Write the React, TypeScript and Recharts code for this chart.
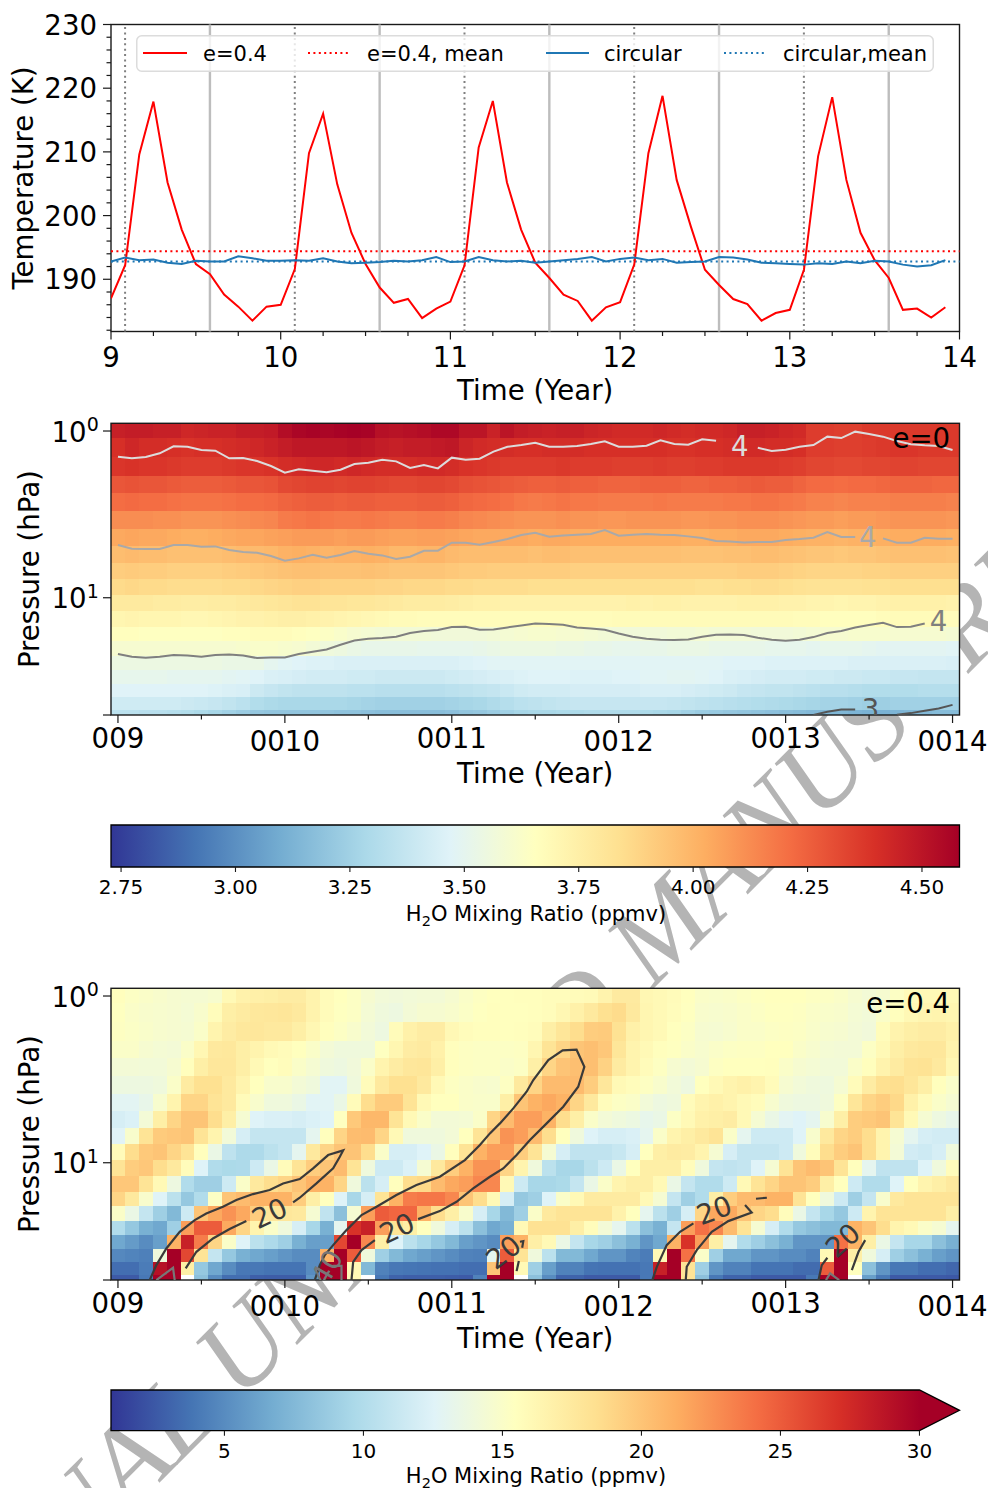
import {
  ComposedChart,
  Legend,
  Line,
  ReferenceArea,
  ReferenceDot,
  ReferenceLine,
  XAxis,
  YAxis,
} from "recharts";

const FONT = "'DejaVu Sans', sans-serif";
const INK = "#1a1a1a";

// top panel, monthly temperature (K)
const eccentricTemps = [
  187, 192.2, 209.6, 217.9, 205.2, 197.8, 192.4, 190.8, 187.6, 185.7, 183.5, 185.7,
  186, 191.6, 209.8, 216, 204.9, 197.3, 192.4, 188.7, 186.3, 186.9, 183.9, 185.4,
  186.5, 192.2, 210.7, 218, 205.2, 197.8, 192.6, 190.2, 187.6, 186.6, 183.5, 185.6,
  186.4, 192.3, 209.8, 218.8, 205.6, 198.3, 191.5, 189.1, 186.9, 186.1, 183.5, 184.7,
  185.2, 191.5, 209.3, 218.6, 205.6, 197.3, 193, 190.2, 185.2, 185.4, 184, 185.6,
];
const circularTemps = [
  192.8, 193.4, 193, 193.1, 192.6, 192.4, 192.9, 192.8, 192.8, 193.6, 193.3, 192.9,
  192.9, 193, 192.9, 193.3, 192.8, 192.5, 192.6, 192.7, 192.9, 192.8, 193, 193.5,
  192.7, 192.8, 193.5, 193, 192.8, 192.9, 192.6, 192.8, 193, 193.2, 193.5, 192.8,
  193.2, 193.4, 193, 193.2, 192.6, 192.7, 192.8, 193.5, 193.4, 193.1, 192.6, 192.5,
  192.4, 192.3, 192.5, 192.4, 192.8, 192.5, 192.9, 192.8, 192.3, 192, 192.2, 193,
];
const eccentricMean = 194.4;
const circularMean = 192.8;
const perihelionYears = [9.083, 10.083, 11.083, 12.083, 13.083];
const aphelionYears = [9.583, 10.583, 11.583, 12.583, 13.583];
const tempYearTicks = [9, 9.25, 9.5, 9.75, 10, 10.25, 10.5, 10.75, 11, 11.25, 11.5, 11.75, 12, 12.25, 12.5, 12.75, 13, 13.25, 13.5, 13.75, 14];
const tempTicks = [182, 184, 186, 188, 190, 192, 194, 196, 198, 200, 202, 204, 206, 208, 210, 212, 214, 216, 218, 220, 222, 224, 226, 228, 230];

const legendItems = [
  { name: "e=0.4", color: "#ff0000", dash: "", x1: 7, x2: 51, tx: 67 },
  { name: "e=0.4, mean", color: "#ff0000", dash: "2 3.4", x1: 172, x2: 215, tx: 231 },
  { name: "circular", color: "#1f77b4", dash: "", x1: 410, x2: 453, tx: 468 },
  { name: "circular,mean", color: "#1f77b4", dash: "2 3.4", x1: 588, x2: 631, tx: 647 },
];

// heat maps share the grid: pressure edges (hPa) of the 19 rows, 61 columns
const pressureEdges = [0.899, 1.1, 1.43, 1.85, 2.37, 3.02, 3.87, 4.89, 6.17, 7.76, 9.63, 12, 14.9, 18.3, 22.3, 27.1, 32.9, 39.6, 47.2, 50.5];
const columnTicks = [0, 6, 12, 18, 24, 30, 36, 42, 48, 54, 60];
const yearLabels = ["009", "0010", "0011", "0012", "0013", "0014"];
const pressureTicks = [1, 10, 50.5];

const circularGrid = [
  [4.46,4.47,4.47,4.46,4.46,4.43,4.44,4.45,4.45,4.47,4.47,4.48,4.53,4.56,4.57,4.56,4.57,4.58,4.57,4.52,4.51,4.52,4.53,4.55,4.55,4.5,4.5,4.45,4.5,4.47,4.46,4.45,4.46,4.46,4.44,4.43,4.42,4.42,4.42,4.43,4.42,4.41,4.42,4.42,4.43,4.46,4.46,4.45,4.43,4.42,4.36,4.36,4.35,4.35,4.37,4.37,4.37,4.37,4.37,4.37,4.37],
  [4.4,4.43,4.41,4.41,4.4,4.39,4.4,4.4,4.41,4.42,4.43,4.45,4.47,4.49,4.49,4.49,4.49,4.5,4.49,4.47,4.46,4.47,4.47,4.48,4.49,4.44,4.42,4.41,4.41,4.4,4.4,4.41,4.41,4.41,4.4,4.4,4.4,4.4,4.4,4.4,4.39,4.39,4.4,4.4,4.41,4.42,4.42,4.41,4.41,4.4,4.36,4.36,4.35,4.35,4.36,4.37,4.38,4.38,4.37,4.37,4.37],
  [4.38,4.39,4.38,4.38,4.37,4.36,4.36,4.36,4.37,4.38,4.38,4.39,4.41,4.42,4.43,4.43,4.42,4.43,4.42,4.41,4.41,4.41,4.42,4.42,4.41,4.39,4.38,4.37,4.36,4.36,4.36,4.36,4.37,4.36,4.36,4.36,4.35,4.35,4.35,4.36,4.35,4.35,4.36,4.36,4.37,4.37,4.37,4.37,4.36,4.35,4.33,4.33,4.32,4.32,4.33,4.33,4.34,4.34,4.33,4.33,4.33],
  [4.28,4.29,4.28,4.28,4.27,4.26,4.26,4.26,4.27,4.28,4.28,4.29,4.32,4.33,4.34,4.34,4.33,4.34,4.34,4.33,4.32,4.32,4.33,4.33,4.32,4.3,4.29,4.28,4.27,4.26,4.25,4.25,4.26,4.25,4.25,4.24,4.24,4.24,4.25,4.25,4.25,4.24,4.24,4.25,4.25,4.26,4.27,4.26,4.26,4.24,4.22,4.22,4.21,4.22,4.22,4.23,4.24,4.24,4.24,4.23,4.23],
  [4.21,4.22,4.21,4.21,4.2,4.19,4.19,4.19,4.2,4.21,4.21,4.22,4.24,4.25,4.26,4.26,4.25,4.26,4.26,4.25,4.25,4.25,4.26,4.26,4.25,4.23,4.22,4.21,4.2,4.18,4.17,4.18,4.19,4.18,4.18,4.17,4.17,4.17,4.17,4.18,4.17,4.17,4.17,4.17,4.18,4.18,4.19,4.19,4.18,4.17,4.15,4.15,4.14,4.15,4.15,4.15,4.16,4.16,4.16,4.16,4.15],
  [4.12,4.12,4.12,4.11,4.11,4.1,4.1,4.1,4.11,4.12,4.13,4.14,4.17,4.18,4.19,4.18,4.17,4.17,4.18,4.17,4.16,4.16,4.17,4.17,4.16,4.14,4.13,4.12,4.11,4.1,4.1,4.1,4.11,4.1,4.1,4.09,4.09,4.1,4.1,4.1,4.1,4.09,4.09,4.1,4.1,4.11,4.11,4.11,4.1,4.09,4.08,4.08,4.07,4.08,4.08,4.09,4.1,4.1,4.1,4.1,4.09],
  [4.04,4.05,4.04,4.04,4.03,4.02,4.02,4.03,4.04,4.05,4.05,4.06,4.07,4.08,4.08,4.08,4.07,4.08,4.08,4.07,4.06,4.06,4.07,4.07,4.06,4.05,4.04,4.04,4.04,4.04,4.03,4.04,4.04,4.03,4.03,4.03,4.03,4.03,4.03,4.03,4.03,4.02,4.02,4.03,4.03,4.04,4.04,4.04,4.03,4.02,4.01,4.01,4,4.01,4.01,4.02,4.03,4.03,4.03,4.03,4.02],
  [3.97,3.98,3.97,3.97,3.96,3.96,3.96,3.96,3.97,3.98,3.98,3.99,4.01,4.02,4.01,4,4.01,4.01,4.02,4.01,3.99,3.99,4,4,3.98,3.97,3.97,3.97,3.97,3.97,3.96,3.97,3.97,3.96,3.96,3.96,3.96,3.96,3.96,3.96,3.96,3.95,3.95,3.95,3.96,3.96,3.97,3.97,3.96,3.95,3.94,3.94,3.93,3.94,3.94,3.95,3.96,3.96,3.96,3.96,3.95],
  [3.91,3.92,3.91,3.91,3.9,3.9,3.9,3.9,3.91,3.92,3.93,3.94,3.95,3.96,3.96,3.95,3.95,3.95,3.96,3.95,3.94,3.94,3.94,3.94,3.93,3.92,3.92,3.91,3.91,3.91,3.91,3.91,3.91,3.9,3.9,3.9,3.9,3.9,3.9,3.9,3.9,3.9,3.9,3.9,3.9,3.91,3.91,3.91,3.9,3.89,3.88,3.88,3.88,3.88,3.89,3.89,3.9,3.9,3.9,3.9,3.9],
  [3.86,3.87,3.86,3.86,3.85,3.85,3.85,3.85,3.86,3.86,3.87,3.88,3.89,3.9,3.9,3.89,3.89,3.89,3.89,3.88,3.88,3.87,3.87,3.87,3.86,3.86,3.85,3.85,3.85,3.85,3.84,3.84,3.84,3.84,3.84,3.84,3.84,3.84,3.84,3.84,3.84,3.84,3.83,3.83,3.84,3.84,3.85,3.85,3.84,3.83,3.82,3.82,3.82,3.82,3.83,3.83,3.84,3.84,3.84,3.84,3.84],
  [3.78,3.78,3.78,3.77,3.77,3.76,3.76,3.77,3.77,3.78,3.79,3.8,3.81,3.82,3.82,3.81,3.81,3.8,3.8,3.79,3.78,3.77,3.77,3.77,3.76,3.75,3.74,3.74,3.73,3.73,3.73,3.73,3.73,3.73,3.73,3.73,3.73,3.74,3.73,3.74,3.74,3.73,3.73,3.73,3.73,3.74,3.74,3.74,3.73,3.73,3.72,3.72,3.71,3.72,3.72,3.73,3.74,3.74,3.74,3.74,3.73],
  [3.71,3.72,3.71,3.71,3.71,3.7,3.7,3.71,3.72,3.73,3.73,3.74,3.75,3.75,3.74,3.73,3.72,3.71,3.7,3.69,3.68,3.68,3.67,3.67,3.67,3.67,3.67,3.67,3.67,3.67,3.67,3.67,3.67,3.67,3.67,3.67,3.68,3.68,3.68,3.68,3.68,3.68,3.68,3.68,3.68,3.68,3.68,3.68,3.68,3.67,3.67,3.66,3.66,3.66,3.66,3.67,3.68,3.68,3.68,3.68,3.67],
  [3.66,3.66,3.65,3.65,3.65,3.65,3.65,3.65,3.66,3.66,3.67,3.67,3.67,3.66,3.65,3.64,3.62,3.6,3.59,3.58,3.58,3.58,3.58,3.57,3.57,3.57,3.57,3.58,3.59,3.6,3.61,3.61,3.6,3.6,3.59,3.58,3.57,3.57,3.57,3.57,3.58,3.58,3.59,3.58,3.58,3.58,3.57,3.57,3.57,3.58,3.59,3.6,3.6,3.61,3.61,3.61,3.6,3.6,3.6,3.6,3.59],
  [3.6,3.6,3.6,3.6,3.6,3.6,3.6,3.6,3.6,3.61,3.62,3.62,3.61,3.6,3.58,3.56,3.55,3.53,3.52,3.52,3.52,3.52,3.51,3.51,3.51,3.51,3.52,3.53,3.54,3.54,3.54,3.54,3.53,3.53,3.52,3.52,3.51,3.51,3.52,3.52,3.53,3.53,3.53,3.52,3.52,3.52,3.52,3.51,3.51,3.51,3.5,3.51,3.51,3.51,3.5,3.49,3.49,3.49,3.49,3.49,3.48],
  [3.54,3.54,3.54,3.54,3.54,3.54,3.54,3.54,3.53,3.53,3.53,3.5,3.48,3.47,3.46,3.46,3.45,3.45,3.45,3.45,3.45,3.45,3.45,3.45,3.45,3.46,3.47,3.48,3.48,3.48,3.48,3.48,3.48,3.48,3.48,3.48,3.48,3.48,3.48,3.48,3.48,3.48,3.48,3.48,3.47,3.47,3.47,3.46,3.46,3.46,3.46,3.46,3.46,3.45,3.45,3.45,3.45,3.45,3.45,3.45,3.44],
  [3.51,3.51,3.51,3.51,3.5,3.5,3.5,3.5,3.49,3.48,3.47,3.45,3.44,3.43,3.42,3.42,3.42,3.41,3.41,3.4,3.4,3.4,3.4,3.4,3.41,3.42,3.43,3.44,3.45,3.46,3.47,3.47,3.47,3.46,3.46,3.46,3.47,3.47,3.48,3.48,3.49,3.49,3.48,3.47,3.45,3.44,3.43,3.42,3.42,3.42,3.41,3.41,3.4,3.4,3.39,3.39,3.38,3.38,3.37,3.37,3.37],
  [3.47,3.47,3.47,3.47,3.47,3.47,3.47,3.46,3.45,3.44,3.4,3.38,3.36,3.35,3.35,3.35,3.35,3.34,3.34,3.33,3.33,3.33,3.33,3.33,3.34,3.35,3.36,3.37,3.39,3.41,3.42,3.42,3.42,3.43,3.43,3.43,3.43,3.43,3.44,3.44,3.44,3.43,3.42,3.41,3.4,3.38,3.37,3.36,3.36,3.35,3.34,3.33,3.33,3.32,3.31,3.31,3.31,3.31,3.32,3.32,3.32],
  [3.41,3.41,3.41,3.41,3.41,3.4,3.39,3.38,3.36,3.34,3.31,3.29,3.28,3.28,3.28,3.28,3.28,3.27,3.26,3.25,3.25,3.25,3.25,3.25,3.26,3.27,3.28,3.3,3.32,3.34,3.35,3.36,3.37,3.38,3.38,3.38,3.38,3.38,3.38,3.38,3.37,3.36,3.35,3.34,3.33,3.32,3.31,3.3,3.29,3.28,3.27,3.26,3.26,3.25,3.24,3.24,3.25,3.25,3.25,3.25,3.25],
  [3.34,3.34,3.33,3.33,3.32,3.31,3.29,3.27,3.25,3.23,3.21,3.2,3.2,3.2,3.2,3.2,3.19,3.19,3.18,3.17,3.17,3.17,3.17,3.17,3.18,3.2,3.21,3.23,3.25,3.27,3.28,3.28,3.29,3.29,3.3,3.3,3.3,3.3,3.29,3.28,3.27,3.25,3.23,3.22,3.21,3.2,3.19,3.18,3.17,3.16,3.15,3.14,3.14,3.13,3.12,3.12,3.13,3.14,3.15,3.16,3.16],
];

const eccentricGrid = [
  [15.6,15.2,15,14.8,14.6,14.5,14.5,14.7,16,16.7,16.9,17,17.2,17.2,16.6,15.8,15.5,15.2,14.6,14.2,14.1,14.2,14.3,14.3,14.6,15,15.3,15.5,15.5,15.6,15.6,15.7,15.7,15.8,15.9,16.6,17.4,17.4,16.2,16,15.8,15.5,15,14.9,15,15.2,15.4,15.5,15.5,15.5,15.3,15.2,15,14.6,14.3,14.6,15.2,15.8,16,16,16],
  [15.4,15,14.8,14.7,14.6,14.4,14.8,15.7,17,17.3,17.6,17.7,17.8,17.5,16.6,15.8,15.4,15.2,14.4,14,13.8,14.3,14.6,14.6,14.8,15.1,15.4,15.6,15.5,15.5,15.6,15.7,16.2,16.8,17.5,18.3,18.6,17.5,16.3,16,15.7,15.4,14.8,14.7,14.8,15,15.2,15.4,15.4,15.3,15,14.9,14.8,14.4,14.2,15,15.6,16.1,16.4,16.5,16.3],
  [15.3,15.1,14.9,14.7,14.6,14.5,15,16.5,17.2,17.6,17.7,17.5,17.5,17,16.2,15.6,15.2,14.8,14.2,13.8,15.8,16.8,17.2,17.2,16.1,15.7,15.6,15.6,15.5,15.6,15.7,17,17.8,18.5,19.5,19.6,18.2,16.8,16.3,16,15.5,15.2,14.6,14.5,14.7,15,15,15.2,15.3,15.2,14.9,14.7,14.6,14.3,14.1,15.7,16.6,17,17.2,17.2,16.8],
  [15,15,14.6,14.4,14.3,15,16.2,17.5,17.6,17,16.5,16,15.8,15.5,15,14.3,14,14,14,15.4,16.3,17.2,17.4,16.8,15.6,15.3,15.2,15.2,15.2,15.3,16.3,18,19,20,20.3,19.8,17.8,16.5,16,15.6,15.4,15,14.7,15,15.2,15.3,15.3,15.5,15.5,15,14.7,14.4,14.3,14.3,15.2,16,17,17.5,17.7,17.7,16.6],
  [14.3,14.3,14.2,14.2,14.6,15.6,17,17.7,17.7,17,16,15.5,15.7,15,14.5,14,13.8,14.1,15,16.5,17.2,17.7,17.8,17,15.6,15.3,15.2,15.2,15,15.2,17,19,20,20.3,20.3,19.2,17.3,16.5,15.8,15.3,14.6,14.3,14.6,15.3,15.5,15.5,15.5,15.6,15,14.6,14.4,14.2,14.2,15,15.6,16.6,17.3,18,18.1,17.5,16.2],
  [13.8,13.8,13.8,14,15,17.3,18.3,18.3,17.5,16.5,15.5,14.8,14.8,14.3,14,12.7,12.7,14,15.8,17.5,18.3,18.3,17.5,16,15.3,15,14.8,14.7,15.3,17.5,19,20.5,20.5,20.5,19.5,17.7,16,15.7,15.3,14.8,14.2,13.8,15.5,16,16.5,16.8,16.5,15.8,14.6,14.2,14,13.9,14.5,15.8,17.2,18.3,18.4,17.8,17,15.6,14.9],
  [12.8,12.8,13.3,14.7,16.5,19,19,18,17.5,15.8,14.8,14,14,13.5,12.7,12.7,13.5,15.8,18.5,19.6,19.6,18,16,15.5,15.5,15,14.9,14.9,17,20,21,21.5,21,19,17.5,15.7,15.2,15,14.2,13.8,14,15.8,16.5,16.8,16.5,16,15.7,14.7,14,13.8,13.8,14,15.3,17.8,19,19.5,18.8,16.8,15.8,15,14.5],
  [12,12.3,14.3,17,19,20,20,18.5,17,14.5,12.5,12.2,12.2,12,12.3,12.5,15.4,19.7,20.7,20.7,18,16,15,14.3,14.3,14.4,15,19,20.5,22,22,21,18.5,17,15,14.3,14,13.7,13.2,13.5,15.2,16,16.8,17,17.2,16,14.5,13.5,12.8,12.5,13,14.7,17,19.5,19.7,20,18,16,14.5,13.8,13.3],
  [12.6,14.8,18,19.6,19.8,20,18,16.5,14.2,12,11,11,11,11,13,15.6,19,20.4,20.5,19,16,14,14,14,14.3,15.5,18,20,22.5,22,20.5,18.5,15.5,14,12.5,12,12,12.2,13,15,16.5,17,17.5,18,15,13,11.5,11.5,11.5,12.5,14.8,17.5,19,19.5,18.5,16.5,14.5,13,12,11.8,11.8],
  [15.8,18.5,19.7,20,19,18,15.6,13.5,10.7,9.8,9.8,10.5,11,13,17.5,19,20,20,18.5,15,12,12,12.5,13.5,15.6,18,21,22,22,19.5,18,14.5,12,10.8,10.8,10.8,11.2,12,15.5,17,17.3,17.2,16.5,14.5,12,11,11,11,11.5,14,15.7,18.5,19.5,20,18.5,16.5,14.3,11.8,11.5,12,14],
  [18,19.5,19.8,18.5,17.5,15.7,12.5,10,9.7,9.8,11.5,13.5,15.8,18,19.5,20,20.5,18,14,11.5,11.5,12.3,14.5,17.5,19.5,21,22.5,22.5,19,16.5,14,10.5,9.5,9.5,10.5,11.5,13.5,15.5,17,17,17,15.7,14,11,10.8,11,12.5,14.5,18,20,20.5,20,18,15.6,13,10.8,10.8,10.8,12.5,14,15.7],
  [19.8,19.8,18,16,13.8,10,9,9,11.5,15,17.5,18.5,19,20,21,21,19,14,10.5,12,15.6,18.5,18.8,20.5,21.5,22,23,23,16,11.5,9.5,9.5,9.7,11,13.5,15,16.5,17,17,16,13.5,11,10,10,11.5,16,18,19,20,20,19.5,17,15.5,11.5,10,10,12.5,15.5,16.5,17,17.5],
  [19,17.5,14.8,12.5,10.5,8.5,10,15.2,20,20.5,21,21,21,19.5,17,15.5,12.5,9.5,12,18,21,23.5,23.8,23.8,23,20,18.5,16,12,8.5,9,12.5,15,16,17.3,17.3,17.3,17.3,16,14.5,11,9,10,17,19.5,20.5,20.5,21,21,18,15.5,14,11.5,9,11,14.8,17.5,18,18,18,18],
  [15,13.5,11,9,7.5,11.5,20,21.5,22.5,21.5,19.5,17.7,17.7,17.5,14.5,10.8,8,14.5,22,25,24.5,24.5,21,18.5,17,14.8,12,9.5,7.5,9,15,17.5,18,18,18,18,16.7,15.5,13,10.5,9,12,19,21.5,21.5,20,19,18.5,15.7,13.5,11,9.5,8.5,11.5,16.5,18,18,18,18,18,17],
  [10,8.5,7,6.5,9,22,25,25,21.5,19,16.5,15,14,12,9.5,7,13,27,28,22,18,17,15.5,14,12,10.5,8,6.5,7,16,18.2,18.2,18.2,17,15.7,14.3,13,10.5,8,7,11,22,24,23,20.5,18,14.5,12,10,8.5,8,7.5,7.5,21,20,18.5,16.5,16,15,14.5,13],
  [6.5,5.8,5,6,21,28,23.5,19,15,12.5,10.5,9.8,9,7,6,6,26,30,23,17,12.5,10.5,9.5,8.5,7.5,6,5.5,5,22,21,17,16,13.5,11,9.5,9,8,7,5.5,6.5,21,27,22,17,13,10,9,8,7,5.5,5.5,5.5,24,21,17,13.5,11,9.5,9.5,8,7],
  [4.8,4.6,4.4,14,30,26,18,11,8.5,7,6.5,6,5.5,5,5,21,31,25,14,9,7.5,6.5,6,5.5,5,4.5,4.4,13,25,18,14,10.5,7.5,7.5,6.5,5.5,5.5,4.6,4.2,16,30,24,15,9,6.5,6.5,5.5,5.5,5,5,4.5,16,30,17,14,12,9,8,7,6,5.5],
  [3.5,3.5,4.2,29,32,17,8.5,6.5,5,4,4,3.8,3.8,3.8,5,31,32,16,7.5,4.5,4,3.9,3.8,3.7,3.7,3.5,3.5,20,32,16,9,6,4.5,4.5,3.8,3.7,3.7,3.7,4,28,31,18,9,5.5,4.5,4.5,3.8,3.8,3.8,3.4,3.4,25,31,15.5,8,5.5,4,4,3.5,3.5,3.2],
  [2.6,2.6,4,32,32,null,8,5,3.5,3.5,2.8,2.7,2.7,2.7,5.5,32,32,16,null,4,3,2.8,2.8,2.8,2.7,2.6,4.5,32,32,null,8,5,3,3,2.6,2.6,2.6,2.6,4,32,32,18,8,4,3,3,2.6,2.6,2.6,2.6,4,32,32,null,6,4,2.6,2.6,2.6,2.6,2.5],
];

// contour pressure per column, circular run (null where the label breaks the line)
const circularContourTop = [1.425,1.459,1.432,1.361,1.236,1.242,1.3,1.312,1.459,1.452,1.514,1.622,1.778,1.698,1.73,1.77,1.706,1.578,1.549,1.486,1.521,1.667,1.6,1.675,1.445,1.486,1.466,1.33,1.242,1.213,1.175,1.242,1.242,1.23,1.197,1.153,1.242,1.242,1.225,1.138,1.197,1.208,1.122,1.143,null,null,1.259,1.318,1.294,1.242,1.213,1.081,1.102,1.009,1.042,1.081,1.148,1.202,1.219,1.23,1.3];
const circularContourMid = [4.831,5.082,5.105,5.105,4.831,4.831,4.943,4.92,5.176,5.321,5.37,5.623,5.998,5.808,5.521,5.754,5.546,5.248,5.445,5.572,5.861,5.675,5.224,5.224,4.677,4.677,4.808,4.634,4.446,4.207,4.074,4.305,4.227,4.188,4.15,3.926,4.246,4.188,4.15,4.188,4.207,4.285,4.385,4.571,4.592,4.656,4.634,4.634,4.508,4.446,4.365,4.036,4.325,4.325,null,4.406,4.677,4.677,4.365,4.426,4.426];
const circularContourLow = [21.78,22.6,22.9,22.6,22.08,22.18,22.6,22.08,21.88,22.18,23.01,22.8,22.8,21.78,21.09,20.42,19.14,18.03,17.62,17.46,17.14,16.29,15.85,15.63,15,14.93,15.56,15.49,15.07,14.66,14.26,14.39,14.52,15.07,15.28,15.56,16.37,17.14,17.62,17.86,17.95,17.78,17.14,16.67,16.6,16.75,17.38,17.86,18.11,17.86,17.22,16.29,15.85,15.07,14.59,14.13,15,14.93,14.26,null,null];
const circularContourDryCols = [50, 51, 52, 53];
const circularContourDry = [50.4, 48.3, 46.8, 46.8];
const circularContourDry2Cols = [56, 57, 58, 59, 60];
const circularContourDry2 = [50.4, 49.2, 47.6, 46.1, 43.9];

// contour traces of the e=0.4 run: column and log10(pressure)
const blobOneCols = [2.28,2.76,3.48,4.44,5.52,6.35,7.55,8.51,9.71,10.91,11.87,13.07,14.03,15.11,16.19,15.95,15.47,14.27,13.07,12.59];
const blobOneLogP = [1.704,1.614,1.514,1.414,1.344,1.304,1.264,1.224,1.188,1.164,1.124,1.098,1.034,0.954,0.926,0.964,1.034,1.124,1.21,1.238];
const blobOneTailCols = [9.23,8.03,6.83,5.64,4.87];
const blobOneTailLogP = [1.35,1.398,1.454,1.534,1.634];
const blobTwoCols = [14.15,14.51,14.87,15.47,16.43,17.51,18.59,20.02,21.46,23.14,24.94,26.02,26.74,27.46,28.42,29.38,29.86,30.94,31.97,32.97,33.53,33.09,32.01,30.82,29.62,28.66,27.7,26.74,25.54,24.34,23.14,21.58];
const blobTwoLogP = [1.704,1.614,1.554,1.494,1.404,1.314,1.264,1.194,1.134,1.084,0.984,0.894,0.824,0.764,0.674,0.574,0.504,0.384,0.326,0.322,0.424,0.544,0.664,0.764,0.864,0.954,1.034,1.084,1.154,1.234,1.29,1.338];
const blobTwoTailCols = [18.47,17.51,16.91,16.79];
const blobTwoTailLogP = [1.464,1.524,1.594,1.704];
const blobThreeCols = [28.9,29.14,29.06];
const blobThreeLogP = [1.474,1.47,1.51];
const blobThreeTailCols = [28.82,28.66];
const blobThreeTailLogP = [1.59,1.65];
const blobFourCols = [38.42,38.74,39.45,40.41,41.37];
const blobFourLogP = [1.704,1.624,1.494,1.414,1.364];
const blobFourTailCols = [40.82,40.89,41.61,42.69,43.88,45.56,45.08];
const blobFourTailLogP = [1.704,1.624,1.524,1.414,1.35,1.298,1.254];
const blobFourDashCols = [45.87,46.65];
const blobFourDashLogP = [1.216,1.21];
const blobFiveCols = [50.36,50.6,51];
const blobFiveLogP = [1.704,1.614,1.57];
const blobFiveTailCols = [53.72,53.24,52.76];
const blobFiveTailLogP = [1.464,1.534,1.644];
const fortyOneCols = [2.76,3.96,4.08];
const fortyOneLogP = [1.704,1.63,1.704];
const fortyTwoCols = [15.47,16.07,16.07];
const fortyTwoLogP = [1.618,1.618,1.704];
const fortyThreeCols = [50.9,51.2,51.85];
const fortyThreeLogP = [1.704,1.664,1.704];

const colormap = ["#313695","#4575b4","#74add1","#abd9e9","#e0f3f8","#ffffbf","#fee090","#fdae61","#f46d43","#d73027","#a50026"];
const lowBarTicks = [2.75, 3, 3.25, 3.5, 3.75, 4, 4.25, 4.5];
const highBarTicks = [5, 10, 15, 20, 25, 30];

function hexRgb(hex: string) {
  return [1, 3, 5].map((i) => parseInt(hex.slice(i, i + 2), 16));
}

function cellColor(value: number | null, vmin: number, vmax: number) {
  if (value === null) return "#ffffff";
  const t = Math.min(1, Math.max(0, (value - vmin) / (vmax - vmin))) * 10;
  const i = Math.min(9, Math.floor(t));
  const a = hexRgb(colormap[i]);
  const b = hexRgb(colormap[i + 1]);
  const mix = a.map((c, k) => Math.round(c + (b[k] - c) * (t - i)));
  return `rgb(${mix[0]},${mix[1]},${mix[2]})`;
}

const fromLog = (cols: number[], logP: number[]) =>
  cols.map((col, i) => ({ col, p: Math.pow(10, logP[i]) }));
const fromColumns = (pressures: (number | null)[]) =>
  pressures.map((p, col) => ({ col, p }));
const fromPairs = (cols: number[], ps: number[]) =>
  cols.map((col, i) => ({ col, p: ps[i] }));

const circularContours = [
  { data: fromColumns(circularContourTop), color: "#dcdcdc" },
  { data: fromColumns(circularContourMid), color: "#a9a9a9" },
  { data: fromColumns(circularContourLow), color: "#7f7f7f" },
  { data: fromPairs(circularContourDryCols, circularContourDry), color: "#555555" },
  { data: fromPairs(circularContourDry2Cols, circularContourDry2), color: "#555555" },
];

const eccentricContours = [
  { data: fromLog(blobOneCols, blobOneLogP), color: "#3a3a3a" },
  { data: fromLog(blobOneTailCols, blobOneTailLogP), color: "#3a3a3a" },
  { data: fromLog(blobTwoCols, blobTwoLogP), color: "#3a3a3a" },
  { data: fromLog(blobTwoTailCols, blobTwoTailLogP), color: "#3a3a3a" },
  { data: fromLog(blobThreeCols, blobThreeLogP), color: "#3a3a3a" },
  { data: fromLog(blobThreeTailCols, blobThreeTailLogP), color: "#3a3a3a" },
  { data: fromLog(blobFourCols, blobFourLogP), color: "#3a3a3a" },
  { data: fromLog(blobFourTailCols, blobFourTailLogP), color: "#3a3a3a" },
  { data: fromLog(blobFourDashCols, blobFourDashLogP), color: "#3a3a3a" },
  { data: fromLog(blobFiveCols, blobFiveLogP), color: "#3a3a3a" },
  { data: fromLog(blobFiveTailCols, blobFiveTailLogP), color: "#3a3a3a" },
  { data: fromLog(fortyOneCols, fortyOneLogP), color: "#777777" },
  { data: fromLog(fortyTwoCols, fortyTwoLogP), color: "#777777" },
  { data: fromLog(fortyThreeCols, fortyThreeLogP), color: "#777777" },
];

const circularLabels = [
  { text: "4", col: 44.7, p: 1.23, color: "#dcdcdc", angle: 0, anchor: "middle" },
  { text: "4", col: 53.9, p: 4.32, color: "#a9a9a9", angle: 0, anchor: "middle" },
  { text: "4", col: 59, p: 13.8, color: "#7f7f7f", angle: 0, anchor: "middle" },
  { text: "3", col: 54.1, p: 46.5, color: "#555555", angle: 0, anchor: "middle" },
  { text: "e=0", col: 59.83, p: 1.1, color: "#000000", angle: 0, anchor: "end" },
];
const eccentricLabels = [
  { text: "20", col: 10.9, p: 20, color: "#3a3a3a", angle: -25, anchor: "middle" },
  { text: "20", col: 20.05, p: 24.6, color: "#3a3a3a", angle: -25, anchor: "middle" },
  { text: "20", col: 27.7, p: 34.3, color: "#3a3a3a", angle: -38, anchor: "middle" },
  { text: "20", col: 42.85, p: 19.2, color: "#3a3a3a", angle: -20, anchor: "middle" },
  { text: "20", col: 52.1, p: 29.1, color: "#3a3a3a", angle: -42, anchor: "middle" },
  { text: "40", col: 15, p: 42.3, color: "#777777", angle: -60, anchor: "middle" },
  { text: "e=0.4", col: 59.83, p: 1.1, color: "#000000", angle: 0, anchor: "end" },
];

const AXIS_TEXT = { fontFamily: FONT, fontSize: 27.6, fill: "#000" };

function TempXTick({ x, y, payload }: any) {
  const major = Number.isInteger(payload.value);
  return (
    <g>
      <line x1={x} x2={x} y1={y} y2={y + (major ? 8 : 4.5)} stroke={INK} strokeWidth={1.2} />
      {major && <text x={x} y={y + 35.5} textAnchor="middle" {...AXIS_TEXT}>{payload.value}</text>}
    </g>
  );
}

function TempYTick({ x, y, payload }: any) {
  const major = payload.value % 10 === 0;
  return (
    <g>
      <line x1={x - (major ? 8 : 4.5)} x2={x} y1={y} y2={y} stroke={INK} strokeWidth={1.2} />
      {major && <text x={x - 14} y={y + 10} textAnchor="end" {...AXIS_TEXT}>{payload.value}</text>}
    </g>
  );
}

function HeatXTick({ x, y, payload }: any) {
  const major = payload.value % 12 === 0;
  const index = payload.value / 12;
  return (
    <g>
      <line x1={x} x2={x} y1={y} y2={y + (major ? 8 : 4.5)} stroke={INK} strokeWidth={1.2} />
      {major && (
        <text x={x} y={y + (index % 2 ? 36 : 33)} textAnchor="middle" {...AXIS_TEXT}>
          {yearLabels[index]}
        </text>
      )}
    </g>
  );
}

function HeatYTick({ x, y, payload }: any) {
  const exponent = payload.value === 1 ? "0" : payload.value === 10 ? "1" : null;
  return (
    <g>
      <line x1={x - 8} x2={x} y1={y} y2={y} stroke={INK} strokeWidth={1.2} />
      {exponent && (
        <text x={x - 59.5} y={y + 10.5} {...AXIS_TEXT}>
          10
          <tspan dy={-10.5} fontSize={19}>{exponent}</tspan>
        </text>
      )}
    </g>
  );
}

function BarTick({ x, y, payload, digits }: any) {
  return (
    <g>
      <line x1={x} x2={x} y1={y} y2={y + 5} stroke={INK} strokeWidth={1.1} />
      <text x={x} y={y + 27} textAnchor="middle" fontFamily={FONT} fontSize={20} fill="#000">
        {payload.value.toFixed(digits)}
      </text>
    </g>
  );
}

function CellShape({ x, y, width, height, fill }: any) {
  return <rect x={x} y={y} width={width} height={height} fill={fill} shapeRendering="crispEdges" />;
}

function FrameShape({ x, y, width, height }: any) {
  return <rect x={x} y={y} width={width} height={height} fill="none" stroke={INK} strokeWidth={1.4} />;
}

function TempLegend() {
  return (
    <svg width={798} height={37} style={{ display: "block" }}>
      <rect x={0.75} y={0.75} width={796.5} height={35.5} rx={5} fill="#fff" fillOpacity={0.8} stroke="#dcdcdc" strokeWidth={1.5} />
      {legendItems.map((item) => (
        <g key={item.name}>
          <line x1={item.x1} x2={item.x2} y1={18} y2={18} stroke={item.color} strokeWidth={2} strokeDasharray={item.dash} />
          <text x={item.tx} y={25.5} fontFamily={FONT} fontSize={21} fill="#000">{item.name}</text>
        </g>
      ))}
    </svg>
  );
}

function TemperaturePanel() {
  const rows = eccentricTemps.map((temp, i) => ({
    year: 9 + i / 12,
    eccentric: temp,
    circular: circularTemps[i],
  }));
  return (
    <ComposedChart
      width={988}
      height={411.5}
      data={rows}
      margin={{ top: 24.5, right: 28.5, bottom: 0, left: 0 }}
    >
      <XAxis
        dataKey="year"
        type="number"
        domain={[9, 14]}
        ticks={tempYearTicks}
        interval={0}
        height={80}
        tick={<TempXTick />}
        tickSize={0}
        tickMargin={0}
        tickLine={false}
        axisLine={false}
        allowDataOverflow
        label={{ value: "Time (Year)", position: "insideBottom", offset: 11.5, style: AXIS_TEXT }}
      />
      <YAxis
        type="number"
        domain={[181.8, 230]}
        ticks={tempTicks}
        interval={0}
        width={111}
        tick={<TempYTick />}
        tickSize={0}
        tickMargin={0}
        tickLine={false}
        axisLine={false}
        allowDataOverflow
        label={{ value: "Temperature (K)", position: "insideLeft", angle: -90, offset: 23, style: { ...AXIS_TEXT, textAnchor: "middle" } }}
      />
      {aphelionYears.map((year) => (
        <ReferenceLine key={year} x={year} stroke="#bdbdbd" strokeWidth={2.4} />
      ))}
      {perihelionYears.map((year) => (
        <ReferenceLine key={year} x={year} stroke="#808080" strokeWidth={2} strokeDasharray="2 3.4" />
      ))}
      <ReferenceLine y={eccentricMean} stroke="#ff0000" strokeWidth={2} strokeDasharray="2 3.4" />
      <ReferenceLine y={circularMean} stroke="#1f77b4" strokeWidth={2} strokeDasharray="2 3.4" />
      <Line dataKey="eccentric" name="e=0.4" stroke="#ff0000" strokeWidth={2} dot={false} isAnimationActive={false} />
      <Line dataKey="circular" name="circular" stroke="#1f77b4" strokeWidth={2} dot={false} isAnimationActive={false} />
      <ReferenceArea x1={9} x2={14} y1={181.8} y2={230} isFront shape={<FrameShape />} />
      <Legend
        layout="horizontal"
        verticalAlign="middle"
        align="center"
        content={<TempLegend />}
        wrapperStyle={{ position: "absolute", left: 136, top: 35, width: 798, height: 37 }}
      />
    </ComposedChart>
  );
}

function HeatPanel({ id, top, plotTop, grid, vmin, vmax, contours, labels, contourWidth }: any) {
  return (
    <div style={{ position: "absolute", left: 0, top }}>
      <ComposedChart
        width={988}
        height={plotTop + 291.7 + 80}
        margin={{ top: plotTop, right: 28.5, bottom: 0, left: 0 }}
      >
        <defs>
          <clipPath id={id}>
            <rect x={111} y={plotTop} width={848.5} height={291.7} />
          </clipPath>
        </defs>
        <XAxis
          dataKey="col"
          type="number"
          domain={[-0.5, 60.5]}
          ticks={columnTicks}
          interval={0}
          height={80}
          tick={<HeatXTick />}
          tickSize={0}
          tickMargin={0}
          tickLine={false}
          axisLine={false}
          allowDataOverflow
          label={{ value: "Time (Year)", position: "insideBottom", offset: 12, style: AXIS_TEXT }}
        />
        <YAxis
          dataKey="p"
          type="number"
          scale="log"
          reversed
          domain={[pressureEdges[0], pressureEdges[19]]}
          ticks={pressureTicks}
          interval={0}
          width={111}
          tick={<HeatYTick />}
          tickSize={0}
          tickMargin={0}
          tickLine={false}
          axisLine={false}
          allowDataOverflow
          label={{ value: "Pressure (hPa)", position: "insideLeft", angle: -90, offset: 29, style: { ...AXIS_TEXT, textAnchor: "middle" } }}
        />
        {grid.map((row: (number | null)[], r: number) =>
          row.map((value, c) => (
            <ReferenceArea
              key={`${r}-${c}`}
              x1={c - 0.5}
              x2={c + 0.5}
              y1={pressureEdges[r]}
              y2={pressureEdges[r + 1]}
              fill={cellColor(value, vmin, vmax)}
              shape={<CellShape />}
            />
          )),
        )}
        {contours.map((contour: any, i: number) => (
          <Line
            key={i}
            data={contour.data}
            dataKey="p"
            stroke={contour.color}
            strokeWidth={contourWidth}
            dot={false}
            legendType="none"
            connectNulls={false}
            isAnimationActive={false}
          />
        ))}
        {labels.map((label: any, i: number) => (
          <ReferenceDot
            key={i}
            x={label.col}
            y={label.p}
            r={0}
            isFront
            ifOverflow="visible"
            shape={(props: any) => (
              <g clipPath={`url(#${id})`}>
                <text
                  x={props.cx}
                  y={props.cy + 10}
                  textAnchor={label.anchor}
                  transform={`rotate(${label.angle} ${props.cx} ${props.cy})`}
                  fontFamily={FONT}
                  fontSize={27.6}
                  fill={label.color}
                >
                  {label.text}
                </text>
              </g>
            )}
          />
        ))}
        <ReferenceArea x1={-0.5} x2={60.5} y1={pressureEdges[0]} y2={pressureEdges[19]} isFront shape={<FrameShape />} />
      </ComposedChart>
    </div>
  );
}

function ColorBar({ id, top, vmin, vmax, extendTo, ticks, digits, axisHeight, labelY }: any) {
  const end = extendTo ?? vmax;
  const solidAt = (vmax - vmin) / (end - vmin);
  return (
    <div style={{ position: "absolute", left: 0, top }}>
      <ComposedChart
        width={988}
        height={110}
        data={[{ v: vmin }, { v: end }]}
        margin={{ top: 1, right: 28.5, bottom: 0, left: 111 }}
      >
        <defs>
          <linearGradient id={id} x1="0" x2="1" y1="0" y2="0">
            {colormap.map((color, i) => (
              <stop key={color} offset={(i / 10) * solidAt} stopColor={color} />
            ))}
          </linearGradient>
        </defs>
        <XAxis
          dataKey="v"
          type="number"
          domain={[vmin, end]}
          ticks={ticks}
          interval={0}
          height={axisHeight}
          tick={<BarTick digits={digits} />}
          tickSize={0}
          tickMargin={0}
          tickLine={false}
          axisLine={false}
          allowDataOverflow
        />
        <YAxis hide type="number" domain={[0, 1]} allowDataOverflow />
        <ReferenceArea
          x1={vmin}
          x2={end}
          y1={0}
          y2={1}
          isFront
          shape={(props: any) => {
            const { x, y, width, height } = props;
            const knee = x + width * solidAt;
            return (
              <path
                d={`M${x} ${y}H${knee}L${x + width} ${y + height / 2}L${knee} ${y + height}H${x}Z`}
                fill={`url(#${id})`}
                stroke="#000"
                strokeWidth={1.3}
              />
            );
          }}
        />
        <text x={536} y={labelY} textAnchor="middle" fontFamily={FONT} fontSize={21} fill="#000">
          H<tspan dy={5} fontSize={14.5}>2</tspan>
          <tspan dy={-5}>O Mixing Ratio (ppmv)</tspan>
        </text>
      </ComposedChart>
    </div>
  );
}

function Watermark() {
  return (
    <svg width={988} height={1488} style={{ position: "absolute", left: 0, top: 0 }}>
      <text
        x={2}
        y={1640}
        transform="rotate(-45 2 1640)"
        fontFamily="'Liberation Serif', serif"
        fontStyle="italic"
        fontSize={112}
        fill="#b4b4b4"
      >
        FINAL UNEDITED MANUSCRIPT
      </text>
    </svg>
  );
}

export default function App() {
  return (
    <div style={{ position: "absolute", left: 0, top: 0, width: 988, height: 1488, overflow: "hidden", background: "#fff" }}>
      <Watermark />
      <div style={{ position: "absolute", left: 0, top: 0 }}>
        <TemperaturePanel />
      </div>
      <HeatPanel
        id="clip-circular"
        top={410}
        plotTop={13.3}
        grid={circularGrid}
        vmin={2.728}
        vmax={4.582}
        contours={circularContours}
        labels={circularLabels}
        contourWidth={2}
      />
      <ColorBar id="bar-circular" top={824} vmin={2.728} vmax={4.582} ticks={lowBarTicks} digits={2} axisHeight={67} labelY={97} />
      <HeatPanel
        id="clip-eccentric"
        top={975}
        plotTop={13.3}
        grid={eccentricGrid}
        vmin={0.92}
        vmax={30}
        contours={eccentricContours}
        labels={eccentricLabels}
        contourWidth={2.2}
      />
      <ColorBar id="bar-eccentric" top={1389} vmin={0.92} vmax={30} extendTo={31.44} ticks={highBarTicks} digits={0} axisHeight={68.3} labelY={94} />
    </div>
  );
}
